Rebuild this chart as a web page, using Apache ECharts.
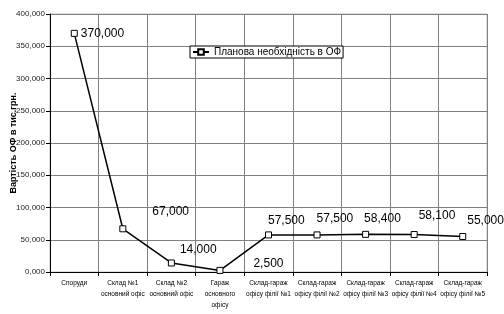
<!DOCTYPE html>
<html><head><meta charset="utf-8">
<script src="https://cdn.jsdelivr.net/npm/echarts@6/dist/echarts.min.js"></script>
<style>html,body{margin:0;padding:0;background:#fff}#c{width:504px;height:314px}</style>
</head><body><div id="c"></div>
<script>
const categories = ["Споруди", "Склад №1\nосновний офіс", "Склад №2\nосновний офіс", "Гараж\nосновного\nофісу",
  "Склад-гараж\nофісу філії №1", "Склад-гараж\nофісу філії №2", "Склад-гараж\nофісу філії №3",
  "Склад-гараж\nофісу філії №4", "Склад-гараж\nофісу філії №5"];
const values = [370000, 67000, 14000, 2500, 57500, 57500, 58400, 58100, 55000];
const seriesName = "Планова необхідність в ОФ";
const yAxisTitle = "Вартість ОФ в тис.грн.";

const labelOffsets = [[3,0],[26,-17],[5,-13],[30,-7],[-4,-14],[-4,-16],[-5,-16],[1,-19],[1,-16]];
const fmt = v => v === 0 ? "0,000" : v.toLocaleString("en-US");

const chart = echarts.init(document.getElementById('c'), null, {renderer: 'canvas'});
chart.setOption({
  animation: false,
  backgroundColor: '#fff',
  textStyle: {fontFamily: 'Liberation Sans, Arial, sans-serif'},
  grid: {left: 50, right: 17, top: 14, bottom: 42, show: true, borderColor: '#c0c0c0', borderWidth: 1,
    containLabel: false, outerBoundsMode: 'none'},
  legend: {
    show: true, left: 190, top: 46, orient: 'horizontal',
    borderColor: '#000', borderWidth: 1, backgroundColor: '#fff',
    padding: [1, 2, 1, 2], itemWidth: 16, itemHeight: 7, itemGap: 4,
    textStyle: {fontSize: 10, color: '#000', fontFamily: 'Liberation Sans, Arial, sans-serif'},
    data: [seriesName]
  },
  xAxis: {
    type: 'category', data: categories, boundaryGap: true,
    axisLine: {lineStyle: {color: '#000', width: 1}},
    axisTick: {show: true, length: 4, lineStyle: {color: '#000'}},
    axisLabel: {fontSize: 6.5, color: '#000', lineHeight: 11, margin: 6, interval: 0, hideOverlap: false,
      fontFamily: 'Liberation Sans, Arial, sans-serif'},
    splitLine: {show: true, lineStyle: {color: '#808080', width: 1}}
  },
  yAxis: {
    type: 'value', min: 0, max: 400000, interval: 50000,
    name: yAxisTitle, nameLocation: 'middle', nameGap: 32, nameRotate: 90, nameMoveOverlap: false,
    nameTextStyle: {fontSize: 9, fontWeight: 'bold', color: '#000', fontFamily: 'Liberation Sans, Arial, sans-serif'},
    axisLine: {show: true, lineStyle: {color: '#000', width: 1}},
    axisTick: {show: true, length: 4, lineStyle: {color: '#000'}},
    axisLabel: {fontSize: 8, color: '#222', margin: 5, formatter: fmt},
    splitLine: {show: true, lineStyle: {color: '#808080', width: 1}}
  },
  series: [{
    name: seriesName, type: 'line',
    data: values.map((v, i) => ({
      value: v,
      label: {show: true, position: 'right', distance: 0, offset: labelOffsets[i]}
    })),
    symbol: 'rect', symbolSize: 6, showAllSymbol: true,
    lineStyle: {color: '#000', width: 1.5},
    itemStyle: {color: '#fff', borderColor: '#000', borderWidth: 1},
    label: {fontSize: 12, color: '#000', formatter: p => fmt(p.value), align: 'left', verticalAlign: 'middle',
      fontFamily: 'Liberation Sans, Arial, sans-serif'}
  }]
});
</script></body></html>
